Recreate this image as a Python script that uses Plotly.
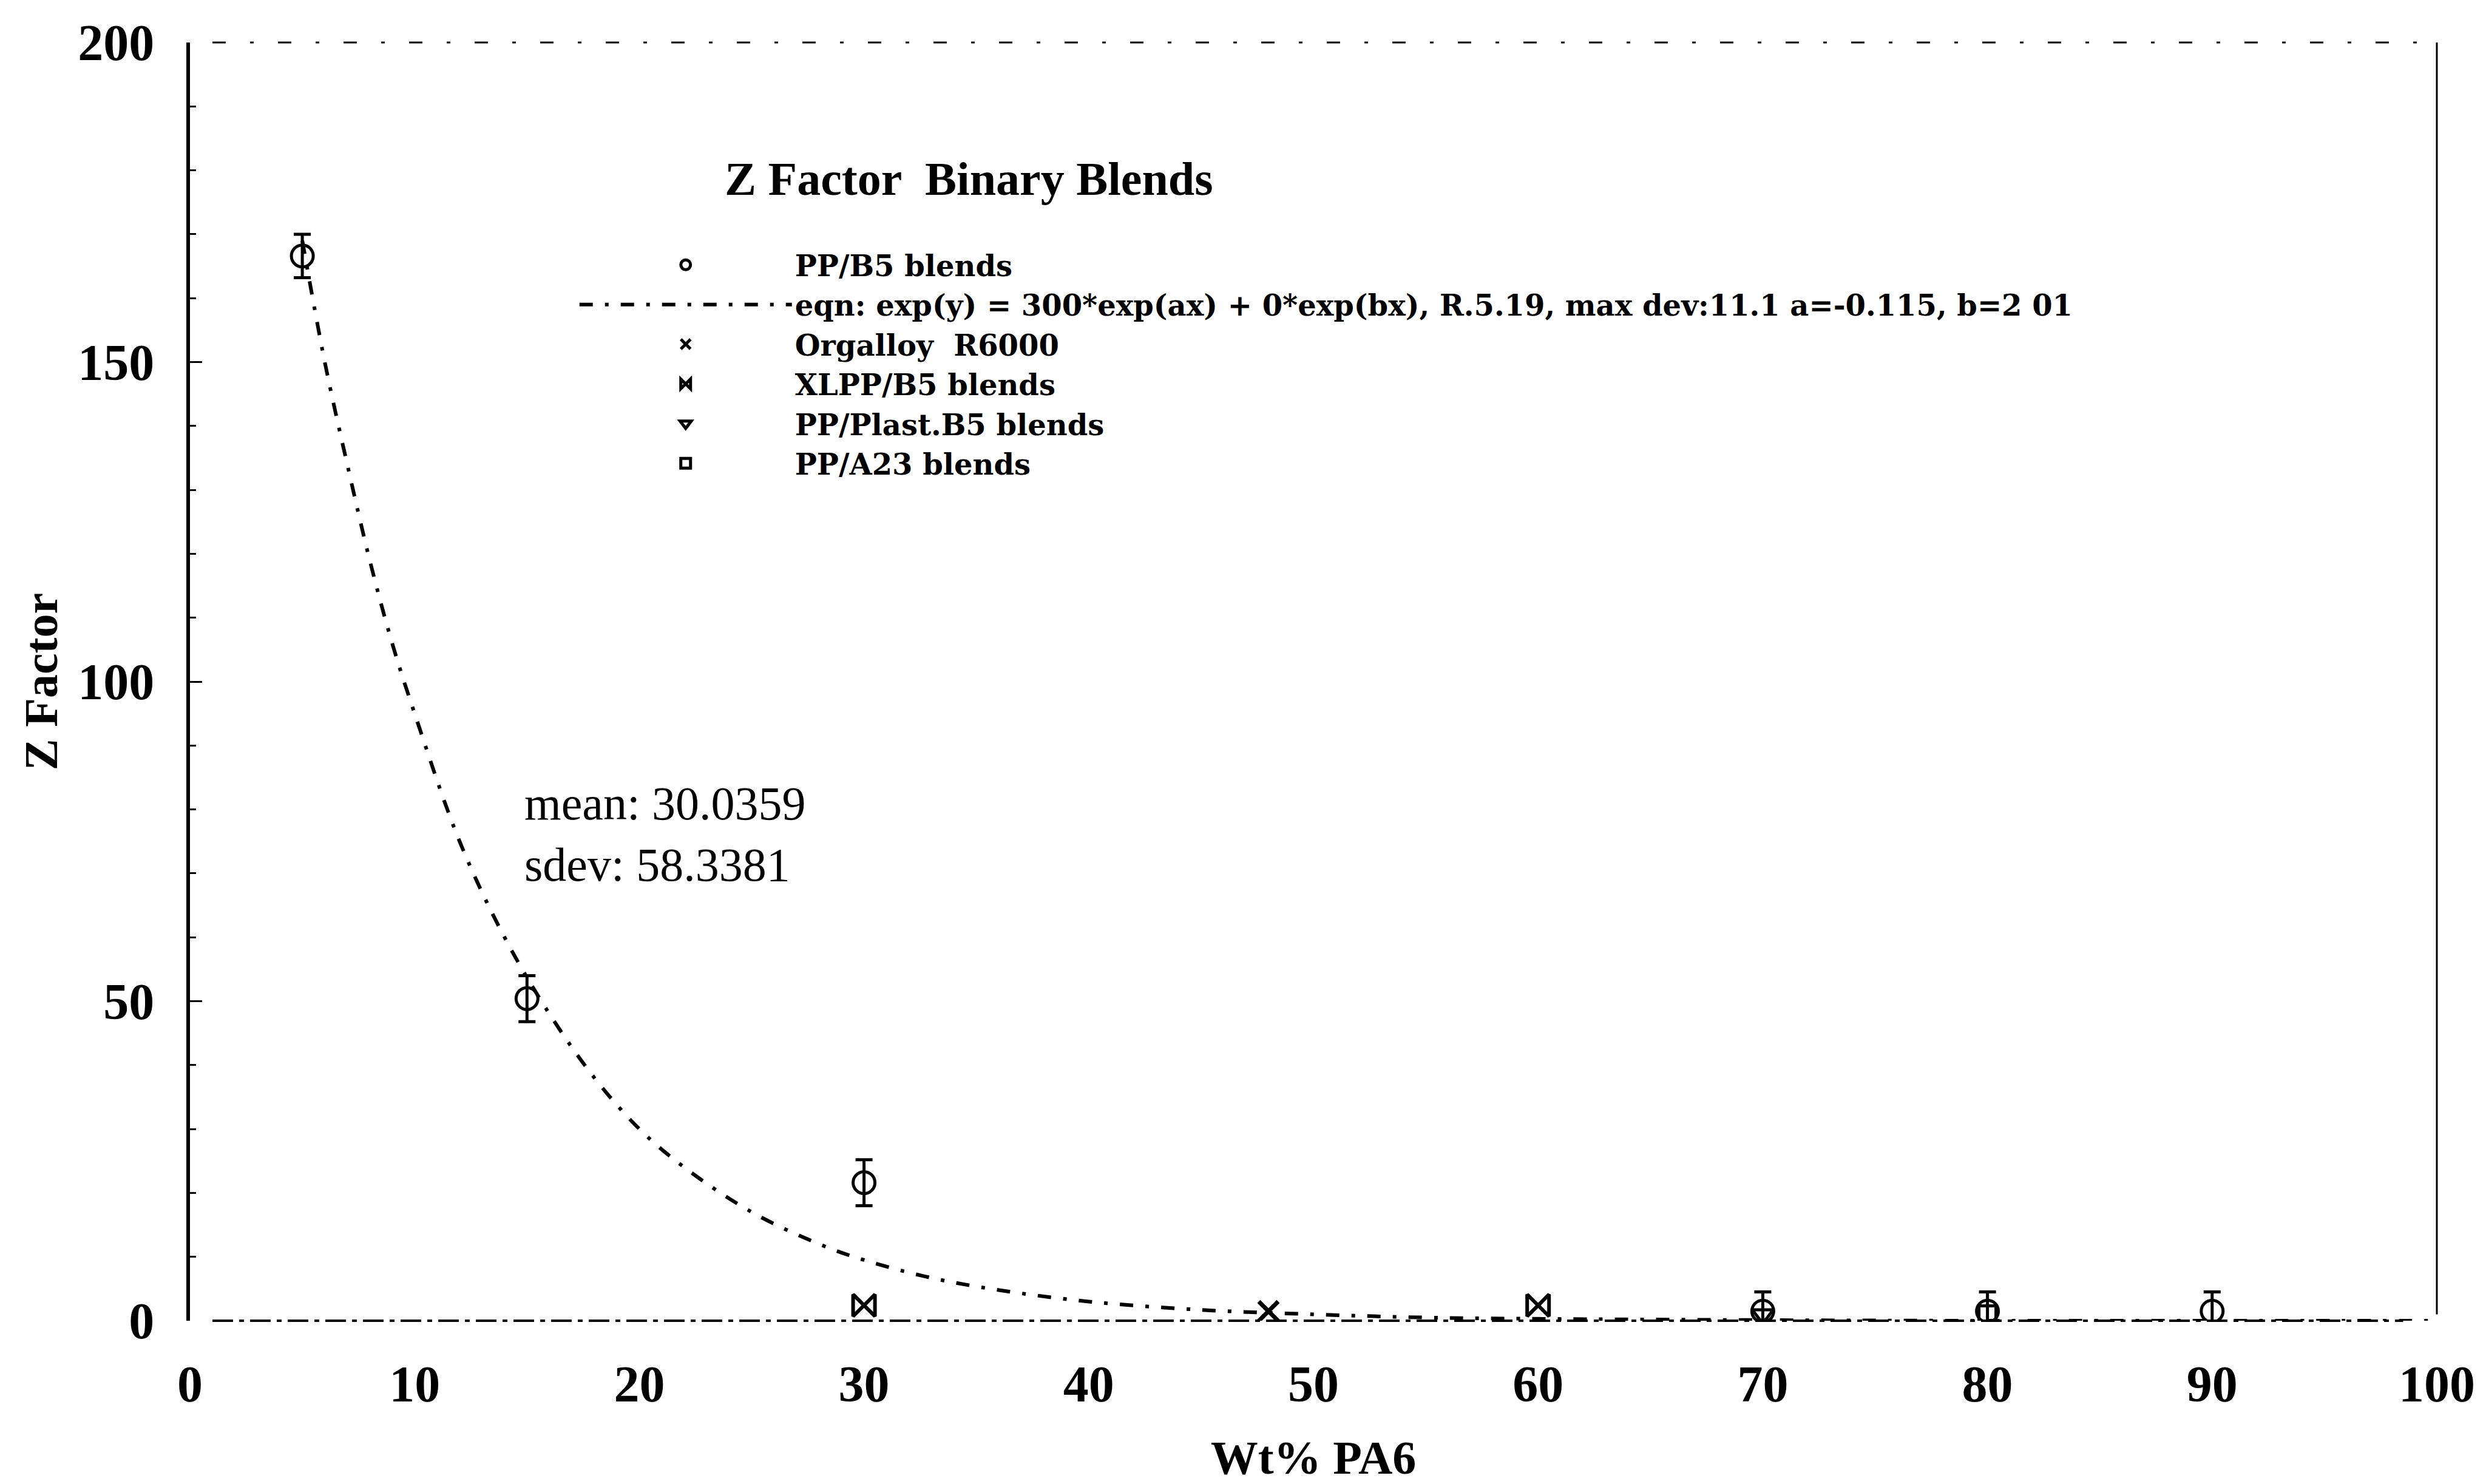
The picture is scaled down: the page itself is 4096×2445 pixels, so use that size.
import plotly.graph_objects as go

# ---- data ----
pp_b5_x = [5, 15, 30, 70, 80, 90]
pp_b5_y = [166.6, 50.4, 21.6, 1.5, 1.5, 1.5]
pp_b5_err = [3.4, 3.6, 3.6, 3.0, 3.0, 3.0]

fit_x = [5, 6, 7, 8, 9, 10, 12, 14, 16, 18, 20, 22, 25, 28, 30, 33, 36, 40, 45, 50, 55, 60, 70, 80, 90, 100]
fit_y = [169, 150, 134, 119, 106, 95, 75, 60, 48, 38, 30, 24, 17, 12, 9.5, 6.7, 4.8, 3.0, 1.7, 1.0, 0.5, 0.3, 0.1, 0.0, 0.0, 0.0]

orgalloy_x = [48]
orgalloy_y = [1.5]

xlpp_x = [30, 60]
xlpp_y = [2.4, 2.4]

plast_x = [70]
plast_y = [1.0]

a23_x = [80]
a23_y = [1.0]

x_ticks = [0, 10, 20, 30, 40, 50, 60, 70, 80, 90, 100]
y_ticks = [0, 50, 100, 150, 200]

names = [
    "PP/B5 blends",
    "eqn: exp(y) = 300*exp(ax) + 0*exp(bx), R.5.19, max dev:11.1 a=-0.115, b=2 01",
    "Orgalloy  R6000",
    "XLPP/B5 blends",
    "PP/Plast.B5 blends",
    "PP/A23 blends",
]

SERIF = "Liberation Serif"
LEGEND_FONT = "DejaVu Serif"
BLACK = "#000000"

fig = go.Figure()

fig.add_trace(go.Scatter(
    x=pp_b5_x, y=pp_b5_y, mode="markers", name=names[0],
    marker=dict(symbol="circle-open", size=36, color=BLACK, line=dict(width=5, color=BLACK)),
    error_y=dict(type="data", array=pp_b5_err, visible=True, color=BLACK, thickness=5, width=14),
))
fig.add_trace(go.Scatter(
    x=fit_x, y=fit_y, mode="lines", name=names[1], line_shape="spline",
    line=dict(color=BLACK, width=6, dash="22px,20px,6px,20px"),
))
fig.add_trace(go.Scatter(
    x=orgalloy_x, y=orgalloy_y, mode="markers", name=names[2],
    marker=dict(symbol="x-thin", size=32, color=BLACK, line=dict(width=7, color=BLACK)),
))
fig.add_trace(go.Scatter(
    x=xlpp_x, y=xlpp_y, mode="markers", name=names[3],
    marker=dict(symbol="bowtie-open", size=36, color=BLACK, line=dict(width=6, color=BLACK)),
))
fig.add_trace(go.Scatter(
    x=plast_x, y=plast_y, mode="markers", name=names[4],
    marker=dict(symbol="triangle-down-open", size=30, color=BLACK, line=dict(width=5, color=BLACK)),
))
fig.add_trace(go.Scatter(
    x=a23_x, y=a23_y, mode="markers", name=names[5],
    marker=dict(symbol="square-open", size=28, color=BLACK, line=dict(width=5, color=BLACK)),
))

fig.update_layout(
    width=4096, height=2445,
    margin=dict(l=313, r=81, t=70, b=269, autoexpand=False),
    paper_bgcolor="white", plot_bgcolor="white",
    font=dict(family=SERIF, color=BLACK, size=50),
    showlegend=True,
    legend=dict(
        x=0.172, y=0.844, xanchor="left", yanchor="top",
        bgcolor="rgba(0,0,0,0)", borderwidth=0,
        font=dict(family=LEGEND_FONT, size=48, color=BLACK, weight="bold"),
        itemwidth=350, itemsizing="trace", tracegroupgap=0,
    ),
    xaxis=dict(
        range=[0, 100], tickvals=x_ticks, ticktext=[str(v) for v in x_ticks],
        showgrid=False, zeroline=False, showline=False, ticks="",
        ticklabelstandoff=48,
        tickfont=dict(family=SERIF, size=84, color=BLACK, weight="bold"),
        title=dict(text="Wt% PA6", standoff=60,
                   font=dict(family=SERIF, size=78, color=BLACK, weight="bold")),
    ),
    yaxis=dict(
        range=[0, 200], tickvals=y_ticks, ticktext=[str(v) for v in y_ticks],
        showgrid=False, zeroline=False,
        showline=True, linewidth=6, linecolor=BLACK, mirror=False,
        ticks="inside", ticklen=20, tickwidth=3, tickcolor=BLACK,
        minor=dict(ticks="inside", dtick=10, ticklen=10, tickwidth=3, tickcolor=BLACK),
        ticklabelstandoff=36,
        tickfont=dict(family=SERIF, size=84, color=BLACK, weight="bold"),
        title=dict(text="Z Factor", standoff=10,
                   font=dict(family=SERIF, size=78, color=BLACK, weight="bold")),
    ),
    shapes=[
        dict(type="line", xref="paper", yref="paper", x0=0.01, x1=0.995, y0=1, y1=1,
             line=dict(color=BLACK, width=3, dash="22px,40px,6px,40px")),
        dict(type="line", xref="paper", yref="paper", x0=0.01, x1=0.985, y0=0, y1=0,
             line=dict(color=BLACK, width=4, dash="34px,10px,8px,10px")),
        dict(type="line", xref="paper", yref="paper", x0=1, x1=1, y0=0.005, y1=1,
             line=dict(color=BLACK, width=3)),
    ],
    annotations=[
        dict(text="Z Factor  Binary Blends", xref="paper", yref="paper",
             x=0.3466, y=0.8934, xanchor="center", yanchor="middle", showarrow=False,
             font=dict(family=SERIF, size=78, color=BLACK, weight="bold")),
        dict(text="mean: 30.0359<br>sdev: 58.3381", xref="paper", yref="paper",
             x=0.1483, y=0.381, xanchor="left", yanchor="middle", align="left",
             showarrow=False,
             font=dict(family=SERIF, size=78, color=BLACK)),
    ],
)

fig.write_html("out.html")
